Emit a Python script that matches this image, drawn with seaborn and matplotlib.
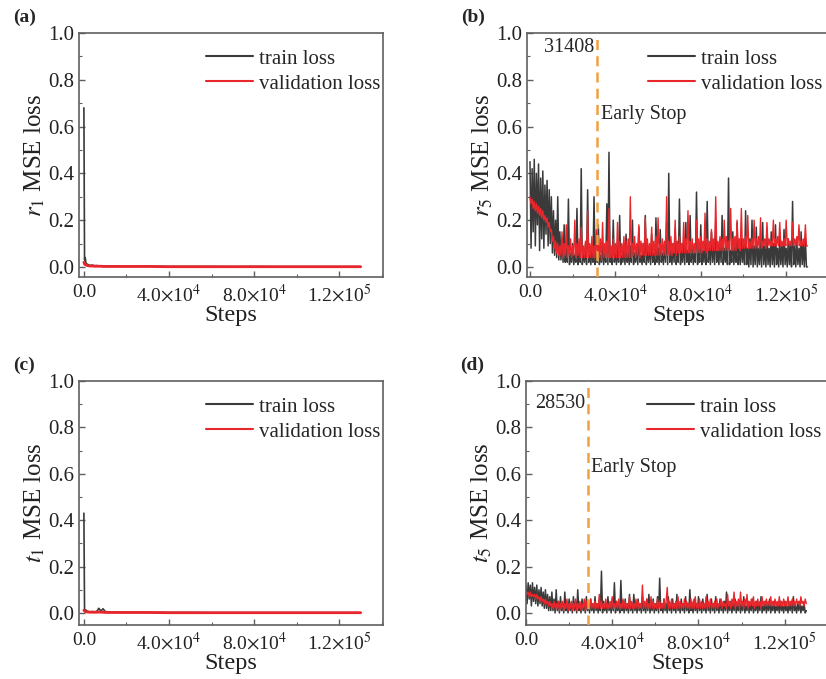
import numpy as np
import matplotlib
matplotlib.use('Agg')
import matplotlib.pyplot as plt
import seaborn as sns
from matplotlib.ticker import MultipleLocator, FuncFormatter

sns.set_theme(style='ticks')
plt.rcParams['font.family'] = ['Liberation Serif', 'DejaVu Serif']
plt.rcParams['mathtext.fontset'] = 'stix'

# ---------------- data ----------------
# panels (a) and (c): sparse steps, loss collapses right after the first step
steps_ac = [0, 300, 600, 1000, 1500, 2000, 3000, 4000, 5000, 6000, 7000, 8000, 9000, 10000,
            12000, 15000, 20000, 30000, 40000, 50000, 60000, 70000, 80000, 90000,
            100000, 110000, 120000, 130000]
train_a = [0.68, 0.03, 0.04, 0.015, 0.012, 0.01, 0.006, 0.008, 0.005, 0.006, 0.004, 0.005, 0.003, 0.004,
           0.003, 0.003, 0.002, 0.003, 0.002, 0.002, 0.002, 0.001, 0.002, 0.001,
           0.001, 0.001, 0.001, 0.001]
val_a = [0.02, 0.012, 0.01, 0.008, 0.006, 0.005, 0.004, 0.004, 0.003, 0.003, 0.003, 0.003, 0.002, 0.002,
         0.002, 0.002, 0.002, 0.002, 0.001, 0.001, 0.001, 0.001, 0.001, 0.001,
         0.001, 0.001, 0.001, 0.001]
train_c = [0.43, 0.015, 0.01, 0.012, 0.008, 0.006, 0.005, 0.006, 0.005, 0.006, 0.02, 0.008, 0.018, 0.006,
           0.004, 0.003, 0.002, 0.002, 0.002, 0.002, 0.001, 0.001, 0.001, 0.001,
           0.001, 0.001, 0.001, 0.001]
val_c = [0.012, 0.008, 0.006, 0.005, 0.004, 0.004, 0.003, 0.003, 0.003, 0.003, 0.004, 0.003, 0.003, 0.002,
         0.002, 0.002, 0.002, 0.002, 0.001, 0.001, 0.001, 0.001, 0.001, 0.001,
         0.001, 0.001, 0.001, 0.001]

# panels (b) and (d): one reading every 500 steps (each row = 5000 steps)
steps_bd = list(range(0, 130500, 500))
train_b = [
    0.45, 0.08, 0.42, 0.15, 0.46, 0.09, 0.40, 0.18, 0.44, 0.07,
    0.38, 0.12, 0.41, 0.08, 0.35, 0.14, 0.37, 0.09, 0.33, 0.10,
    0.30, 0.06, 0.24, 0.05, 0.20, 0.04, 0.30, 0.03, 0.15, 0.03,
    0.12, 0.02, 0.18, 0.02, 0.08, 0.02, 0.29, 0.01, 0.06, 0.02,
    0.10, 0.01, 0.05, 0.02, 0.25, 0.01, 0.07, 0.02, 0.42, 0.01,
    0.06, 0.02, 0.10, 0.01, 0.33, 0.02, 0.05, 0.01, 0.08, 0.02,
    0.30, 0.01, 0.06, 0.02, 0.18, 0.01, 0.05, 0.02, 0.09, 0.01,
    0.06, 0.02, 0.27, 0.01, 0.49, 0.02, 0.05, 0.01, 0.20, 0.02,
    0.06, 0.01, 0.09, 0.02, 0.22, 0.01, 0.05, 0.02, 0.08, 0.01,
    0.14, 0.02, 0.06, 0.01, 0.09, 0.02, 0.20, 0.01, 0.06, 0.02,
    0.08, 0.01, 0.17, 0.02, 0.05, 0.01, 0.10, 0.02, 0.22, 0.01,
    0.07, 0.02, 0.09, 0.01, 0.14, 0.02, 0.06, 0.01, 0.21, 0.02,
    0.08, 0.01, 0.16, 0.02, 0.06, 0.01, 0.10, 0.02, 0.19, 0.01,
    0.40, 0.02, 0.07, 0.01, 0.10, 0.02, 0.16, 0.01, 0.07, 0.02,
    0.29, 0.01, 0.08, 0.02, 0.11, 0.01, 0.19, 0.02, 0.07, 0.01,
    0.22, 0.02, 0.09, 0.01, 0.06, 0.02, 0.32, 0.01, 0.08, 0.02,
    0.18, 0.01, 0.07, 0.02, 0.11, 0.01, 0.28, 0.02, 0.08, 0.01,
    0.15, 0.02, 0.09, 0.01, 0.19, 0.02, 0.07, 0.01, 0.12, 0.02,
    0.22, 0.01, 0.08, 0.02, 0.10, 0.01, 0.38, 0.01, 0.07, 0.02,
    0.15, 0.01, 0.09, 0.02, 0.19, 0.01, 0.08, 0.01, 0.12, 0.02,
    0.10, 0.01, 0.24, 0.01, 0.08, 0.00, 0.12, 0.01, 0.20, 0.00,
    0.09, 0.01, 0.17, 0.00, 0.08, 0.01, 0.12, 0.00, 0.19, 0.01,
    0.09, 0.00, 0.13, 0.01, 0.08, 0.00, 0.15, 0.01, 0.10, 0.00,
    0.18, 0.01, 0.08, 0.00, 0.12, 0.01, 0.09, 0.00, 0.16, 0.01,
    0.08, 0.00, 0.12, 0.01, 0.10, 0.00, 0.28, 0.01, 0.09, 0.00,
    0.11, 0.01, 0.08, 0.00, 0.15, 0.01, 0.10, 0.00, 0.12, 0.00,
    0.00]
val_b = [
    0.30, 0.27, 0.29, 0.25, 0.28, 0.24, 0.27, 0.23, 0.26, 0.22,
    0.25, 0.21, 0.24, 0.20, 0.22, 0.19, 0.21, 0.17, 0.19, 0.15,
    0.16, 0.11, 0.13, 0.08, 0.11, 0.06, 0.10, 0.05, 0.09, 0.05,
    0.15, 0.04, 0.10, 0.05, 0.18, 0.04, 0.09, 0.05, 0.12, 0.04,
    0.09, 0.05, 0.20, 0.04, 0.10, 0.05, 0.12, 0.04, 0.17, 0.04,
    0.09, 0.04, 0.11, 0.04, 0.24, 0.04, 0.10, 0.04, 0.13, 0.04,
    0.09, 0.04, 0.16, 0.04, 0.10, 0.04, 0.12, 0.03, 0.19, 0.04,
    0.10, 0.04, 0.11, 0.04, 0.25, 0.04, 0.09, 0.04, 0.12, 0.04,
    0.10, 0.04, 0.19, 0.04, 0.11, 0.04, 0.10, 0.04, 0.13, 0.04,
    0.11, 0.04, 0.12, 0.04, 0.30, 0.04, 0.10, 0.05, 0.13, 0.04,
    0.10, 0.05, 0.18, 0.04, 0.11, 0.05, 0.10, 0.05, 0.21, 0.05,
    0.12, 0.05, 0.10, 0.05, 0.17, 0.05, 0.11, 0.05, 0.13, 0.05,
    0.21, 0.05, 0.10, 0.05, 0.12, 0.05, 0.11, 0.05, 0.30, 0.05,
    0.11, 0.05, 0.13, 0.05, 0.10, 0.06, 0.20, 0.05, 0.11, 0.06,
    0.13, 0.06, 0.10, 0.06, 0.19, 0.06, 0.12, 0.06, 0.24, 0.06,
    0.11, 0.06, 0.12, 0.06, 0.10, 0.06, 0.20, 0.06, 0.12, 0.06,
    0.13, 0.06, 0.11, 0.07, 0.23, 0.06, 0.12, 0.07, 0.11, 0.07,
    0.16, 0.07, 0.12, 0.07, 0.30, 0.07, 0.11, 0.07, 0.13, 0.07,
    0.12, 0.07, 0.20, 0.07, 0.13, 0.07, 0.11, 0.07, 0.25, 0.07,
    0.12, 0.07, 0.13, 0.07, 0.20, 0.08, 0.12, 0.07, 0.25, 0.08,
    0.12, 0.08, 0.13, 0.08, 0.22, 0.08, 0.11, 0.08, 0.12, 0.08,
    0.20, 0.08, 0.12, 0.08, 0.13, 0.08, 0.21, 0.08, 0.11, 0.09,
    0.12, 0.08, 0.19, 0.09, 0.12, 0.09, 0.11, 0.09, 0.20, 0.09,
    0.12, 0.09, 0.13, 0.09, 0.19, 0.09, 0.11, 0.09, 0.12, 0.09,
    0.20, 0.09, 0.12, 0.09, 0.11, 0.09, 0.19, 0.09, 0.12, 0.09,
    0.13, 0.09, 0.18, 0.09, 0.11, 0.09, 0.12, 0.09, 0.18, 0.09,
    0.09]
train_d = [
    0.12, 0.04, 0.13, 0.06, 0.12, 0.03, 0.13, 0.05, 0.11, 0.04,
    0.12, 0.03, 0.10, 0.04, 0.11, 0.03, 0.09, 0.02, 0.10, 0.02,
    0.08, 0.01, 0.07, 0.01, 0.09, 0.01, 0.06, 0.00, 0.10, 0.01,
    0.05, 0.00, 0.07, 0.01, 0.04, 0.00, 0.09, 0.01, 0.04, 0.00,
    0.06, 0.01, 0.04, 0.00, 0.07, 0.01, 0.05, 0.00, 0.10, 0.01,
    0.04, 0.00, 0.06, 0.01, 0.04, 0.00, 0.07, 0.01, 0.04, 0.00,
    0.06, 0.01, 0.04, 0.00, 0.07, 0.01, 0.04, 0.00, 0.06, 0.01,
    0.18, 0.00, 0.05, 0.01, 0.04, 0.00, 0.07, 0.01, 0.04, 0.00,
    0.06, 0.01, 0.13, 0.00, 0.05, 0.01, 0.04, 0.00, 0.14, 0.01,
    0.05, 0.00, 0.06, 0.01, 0.04, 0.00, 0.08, 0.01, 0.04, 0.00,
    0.08, 0.01, 0.04, 0.00, 0.06, 0.01, 0.04, 0.00, 0.07, 0.01,
    0.04, 0.00, 0.06, 0.01, 0.08, 0.00, 0.04, 0.01, 0.06, 0.00,
    0.04, 0.01, 0.07, 0.00, 0.15, 0.01, 0.04, 0.00, 0.06, 0.01,
    0.04, 0.00, 0.07, 0.01, 0.04, 0.00, 0.06, 0.01, 0.04, 0.00,
    0.08, 0.01, 0.04, 0.00, 0.06, 0.01, 0.04, 0.00, 0.07, 0.01,
    0.04, 0.00, 0.10, 0.01, 0.04, 0.00, 0.06, 0.01, 0.04, 0.00,
    0.07, 0.01, 0.04, 0.00, 0.06, 0.01, 0.04, 0.00, 0.08, 0.01,
    0.04, 0.00, 0.06, 0.01, 0.04, 0.00, 0.07, 0.01, 0.04, 0.00,
    0.06, 0.01, 0.04, 0.00, 0.05, 0.01, 0.09, 0.00, 0.04, 0.01,
    0.05, 0.00, 0.04, 0.01, 0.06, 0.00, 0.03, 0.01, 0.05, 0.00,
    0.04, 0.01, 0.07, 0.00, 0.03, 0.01, 0.05, 0.00, 0.04, 0.01,
    0.06, 0.00, 0.03, 0.01, 0.05, 0.00, 0.04, 0.01, 0.07, 0.00,
    0.03, 0.01, 0.05, 0.00, 0.04, 0.01, 0.06, 0.00, 0.03, 0.01,
    0.05, 0.00, 0.03, 0.01, 0.04, 0.00, 0.05, 0.01, 0.03, 0.00,
    0.05, 0.01, 0.03, 0.00, 0.04, 0.01, 0.05, 0.00, 0.07, 0.01,
    0.03, 0.00, 0.04, 0.01, 0.05, 0.00, 0.03, 0.01, 0.04, 0.00,
    0.01]
val_d = [
    0.09, 0.08, 0.09, 0.07, 0.09, 0.07, 0.08, 0.07, 0.08, 0.06,
    0.08, 0.06, 0.07, 0.05, 0.07, 0.05, 0.06, 0.04, 0.06, 0.04,
    0.05, 0.03, 0.05, 0.03, 0.04, 0.02, 0.05, 0.02, 0.04, 0.02,
    0.05, 0.01, 0.04, 0.02, 0.05, 0.01, 0.04, 0.02, 0.06, 0.01,
    0.04, 0.02, 0.05, 0.01, 0.04, 0.02, 0.06, 0.01, 0.04, 0.02,
    0.05, 0.01, 0.04, 0.02, 0.06, 0.01, 0.05, 0.02, 0.04, 0.02,
    0.06, 0.02, 0.04, 0.02, 0.05, 0.02, 0.04, 0.02, 0.08, 0.02,
    0.05, 0.02, 0.04, 0.02, 0.06, 0.02, 0.04, 0.02, 0.05, 0.02,
    0.07, 0.02, 0.04, 0.02, 0.05, 0.02, 0.06, 0.02, 0.04, 0.02,
    0.06, 0.02, 0.05, 0.02, 0.04, 0.02, 0.07, 0.02, 0.05, 0.02,
    0.04, 0.02, 0.06, 0.02, 0.05, 0.02, 0.04, 0.02, 0.12, 0.02,
    0.05, 0.02, 0.06, 0.02, 0.04, 0.02, 0.07, 0.02, 0.05, 0.02,
    0.04, 0.02, 0.06, 0.02, 0.05, 0.02, 0.04, 0.02, 0.06, 0.02,
    0.05, 0.11, 0.02, 0.05, 0.02, 0.06, 0.02, 0.04, 0.02, 0.05,
    0.02, 0.07, 0.02, 0.05, 0.02, 0.04, 0.02, 0.06, 0.02, 0.05,
    0.02, 0.04, 0.02, 0.06, 0.02, 0.05, 0.02, 0.07, 0.02, 0.04,
    0.02, 0.06, 0.02, 0.05, 0.02, 0.04, 0.02, 0.07, 0.02, 0.05,
    0.02, 0.06, 0.02, 0.04, 0.02, 0.05, 0.02, 0.06, 0.02, 0.04,
    0.03, 0.06, 0.02, 0.05, 0.03, 0.04, 0.02, 0.08, 0.03, 0.05,
    0.02, 0.06, 0.03, 0.09, 0.02, 0.05, 0.03, 0.06, 0.02, 0.09,
    0.03, 0.05, 0.02, 0.06, 0.03, 0.08, 0.02, 0.05, 0.03, 0.06,
    0.03, 0.07, 0.02, 0.05, 0.03, 0.06, 0.03, 0.05, 0.02, 0.07,
    0.03, 0.05, 0.03, 0.06, 0.03, 0.05, 0.03, 0.07, 0.03, 0.05,
    0.03, 0.06, 0.03, 0.05, 0.03, 0.07, 0.03, 0.05, 0.03, 0.06,
    0.03, 0.05, 0.03, 0.07, 0.03, 0.05, 0.03, 0.06, 0.03, 0.05,
    0.03, 0.06, 0.04, 0.05, 0.03, 0.07, 0.04, 0.05, 0.03, 0.06,
    0.04]

panel_tags = ['(a)', '(b)', '(c)', '(d)']
ylabels = ['$r_1$ MSE loss', '$r_5$ MSE loss', '$t_1$ MSE loss', '$t_5$ MSE loss']
early_stop = {1: 31408, 3: 28530}

# ---------------- style ----------------
TRAIN_C = '#3a3a3a'
VAL_C = '#e8262b'
STOP_C = '#f0a040'
SPINE_C = '#606060'

def sci_fmt(v, pos):
    if v == 0:
        return '0.0'
    e = int(np.floor(np.log10(abs(v)) + 1e-9))
    m = v / 10 ** e
    return f'{m:.1f}$\\times$10$^{{{e}}}$'

fig = plt.figure(figsize=(8.26, 6.79), dpi=100)
W, H = 826, 679
boxes = [(79, 33, 304, 244), (527, 33, 304, 244), (79, 381, 304, 244), (526, 381, 304, 244)]
xlims = [(-2300, 140500), (-1400, 141000), (-2300, 140500), (0, 141000)]
ylims = [(-0.043, 1.0), (-0.043, 1.0), (-0.052, 1.0), (-0.052, 1.0)]
legend_x = [1.032, 1.012, 1.032, 1.012]

series = [
    (steps_ac, train_a, val_a),
    (steps_bd, train_b, val_b),
    (steps_ac, train_c, val_c),
    (steps_bd, train_d, val_d),
]

for i, (x0, y0, w, h) in enumerate(boxes):
    ax = fig.add_axes([x0 / W, 1 - (y0 + h) / H, w / W, h / H])
    xs, tr, va = series[i]
    n = min(len(xs), len(tr), len(va))
    dense = i in (1, 3)
    lw_tr = 1.1 if dense else 1.2
    lw_va = 1.0 if dense else 2.0
    sns.lineplot(x=xs[:n], y=tr[:n], ax=ax, color=TRAIN_C, lw=lw_tr, label='train loss')
    sns.lineplot(x=xs[:n], y=va[:n], ax=ax, color=VAL_C, lw=lw_va, label='validation loss')

    if i in early_stop:
        s = early_stop[i]
        ax.axvline(s, color=STOP_C, ls=(0, (4, 2.5)), lw=1.8, zorder=3)
        ty = 0.94 if i == 1 else 0.905
        ey = 0.65 if i == 1 else 0.625
        ax.text(s - 1200, ty, str(s), ha='right', va='center', fontsize=14.5)
        ax.text(s + 1800, ey, 'Early Stop', ha='left', va='center', fontsize=14.5)

    ax.set_xlim(*xlims[i])
    ax.set_ylim(*ylims[i])
    ax.set_xticks([0, 40000, 80000, 120000])
    ax.xaxis.set_minor_locator(MultipleLocator(20000))
    ax.yaxis.set_major_locator(MultipleLocator(0.2))
    ax.yaxis.set_minor_locator(MultipleLocator(0.1))
    ax.xaxis.set_major_formatter(FuncFormatter(sci_fmt))
    ax.yaxis.set_major_formatter(FuncFormatter(lambda v, p: f'{v:.1f}'))
    ax.tick_params(which='both', direction='in', colors=SPINE_C, labelcolor='#222222',
                   labelsize=14)
    ax.tick_params(axis='y', labelsize=15)
    ax.tick_params(which='major', length=4, width=1)
    ax.tick_params(which='minor', length=2.5, width=0.8)
    ax.tick_params(axis='x', pad=5)
    for sp in ax.spines.values():
        sp.set_color(SPINE_C)
        sp.set_linewidth(1.2)

    ax.set_xlabel('Steps', fontsize=17.5, labelpad=-1, color='#222222')
    ax.set_ylabel(ylabels[i], fontsize=18, labelpad=1, color='#222222')

    leg = ax.legend(loc='upper right', bbox_to_anchor=(legend_x[i], 0.985), frameon=False,
                    fontsize=15, handlelength=2.25, handletextpad=0.3, labelspacing=0.25,
                    borderaxespad=0.2)
    for line in leg.get_lines():
        line.set_linewidth(1.5)

    fig.text((x0 - 66) / W, 1 - (y0 - 16) / H, panel_tags[i], fontsize=14,
             fontweight='bold', ha='left', va='center')

fig.savefig('out.png', dpi=100, facecolor='white')
